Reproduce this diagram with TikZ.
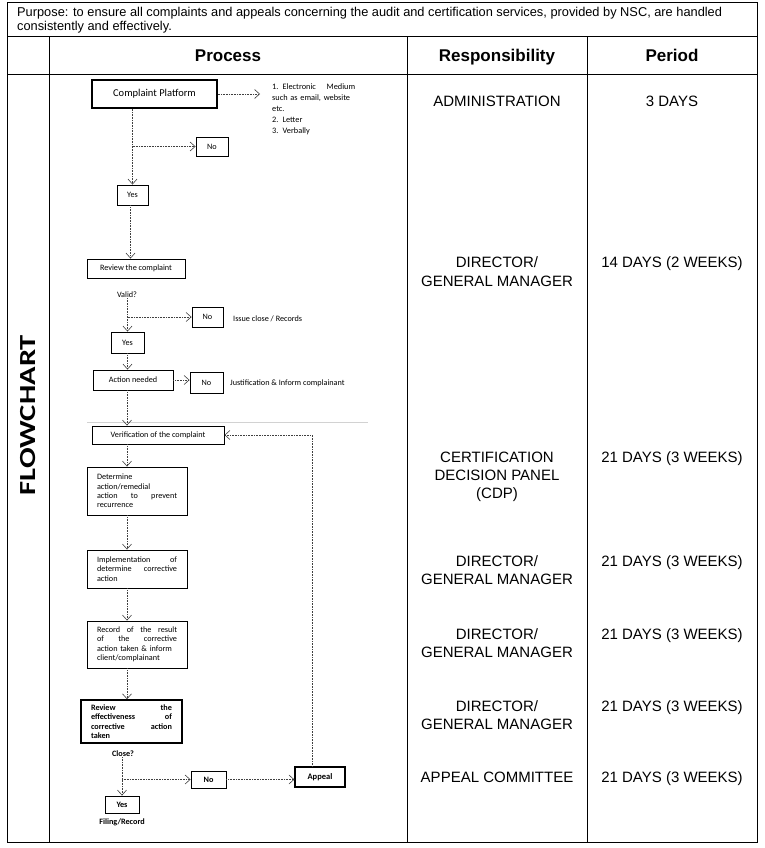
\documentclass[tikz,border=0pt]{standalone}
\usepackage{fontspec}
\setmainfont{Liberation Sans}
\newfontfamily\calfont{Carlito}
\usetikzlibrary{arrows.meta}
\begin{document}
\begin{tikzpicture}[x=1pt,y=-1pt,
  grid/.style={line width=1pt, draw=black},
  colhead/.style={font=\bfseries\fontsize{17}{20}\selectfont, inner sep=0pt, anchor=base},
  resp/.style={anchor=north, align=center, inner sep=0pt, font=\fontsize{15}{18.3}\selectfont},
  fbox/.style={draw=black, line width=0.9pt, inner sep=0pt, align=center, font=\calfont\fontsize{8.2}{9.4}\selectfont},
  tbox/.style={fbox, line width=1.5pt},
  jbox/.style={fbox, align=left, text width=#1, inner xsep=10pt},
  small/.style={inner sep=0pt, font=\calfont\fontsize{8.2}{9.4}\selectfont},
  smallb/.style={inner sep=0pt, font=\calfont\bfseries\fontsize{8.2}{9.4}\selectfont},
  flow/.style={densely dotted, draw=black!75, line width=0.6pt, -{Straight Barb[length=5pt,width=9pt,line width=0.6pt]}}
]
\useasboundingbox (0,0) rectangle (764,848);
% ---------- table ----------
\draw[grid] (7,3) rectangle (757,842);
\draw[grid] (7,37) -- (757,37);
\draw[grid] (7,75) -- (757,75);
\draw[grid] (49,37) -- (49,842);
\draw[grid] (407,37) -- (407,842);
\draw[grid] (587,37) -- (587,842);
\draw[gray!35, line width=0.6pt] (87,422) -- (368,422);

\node[anchor=north west, align=left, inner sep=0pt, font=\fontsize{12.8}{14}\selectfont] (purpose) at (17,7.3)
  {Purpose: to ensure all complaints and appeals concerning the audit and certification services, provided by NSC, are handled\\consistently and effectively.};

\node[colhead] (hproc) at (228,62) {Process};
\node[colhead] (hresp) at (497,62) {Responsibility};
\node[colhead] (hper) at (672,62) {Period};

\node[rotate=90, xscale=1.33, inner sep=0pt, font=\calfont\bfseries\fontsize{23}{23}\selectfont] (fc) at (28,415) {FLOWCHART};

% ---------- responsibility / period ----------
\node[resp] (r1) at (497,95.7) {ADMINISTRATION};
\node[resp] (p1) at (672,95.7) {3 DAYS};
\node[resp] (r2) at (497,256.7) {DIRECTOR/\\GENERAL MANAGER};
\node[resp] (p2) at (672,256.7) {14 DAYS (2 WEEKS)};
\node[resp] (r3) at (497,451.7) {CERTIFICATION\\DECISION PANEL\\(CDP)};
\node[resp] (p3) at (672,451.7) {21 DAYS (3 WEEKS)};
\node[resp] (r4) at (497,555) {DIRECTOR/\\GENERAL MANAGER};
\node[resp] (p4) at (672,555) {21 DAYS (3 WEEKS)};
\node[resp] (r5) at (497,628.3) {DIRECTOR/\\GENERAL MANAGER};
\node[resp] (p5) at (672,628.3) {21 DAYS (3 WEEKS)};
\node[resp] (r6) at (497,700) {DIRECTOR/\\GENERAL MANAGER};
\node[resp] (p6) at (672,700) {21 DAYS (3 WEEKS)};
\node[resp] (r7) at (497,771.7) {APPEAL COMMITTEE};
\node[resp] (p7) at (672,771.7) {21 DAYS (3 WEEKS)};

% ---------- flowchart nodes ----------
\node[tbox, minimum width=125pt, minimum height=28pt, font=\calfont\fontsize{10.5}{12}\selectfont] (cp) at (154.5,94) {Complaint Platform};
\coordinate (cpend) at (260,94);
\node[anchor=north west, align=left, text width=83pt, inner sep=0pt, font=\calfont\fontsize{8.3}{11}\selectfont] (media) at (272,84)
  {1. Electronic \hfill Medium\\such as email, website\\etc.\\2. Letter\\3. Verbally};
\node[fbox, minimum width=32pt, minimum height=19pt] (no1) at (212,146.5) {No};
\node[fbox, minimum width=31pt, minimum height=20pt] (yes1) at (132.5,195) {Yes};
\coordinate (b1) at (132.5,146.5);

\node[fbox, minimum width=98pt, minimum height=19pt] (rev) at (136,268.5) {Review the complaint};
\node[small] (valid) at (127,295) {Valid?};
\node[fbox, minimum width=33pt, minimum height=21pt] (yes2) at (127.5,342.5) {Yes};
\node[fbox, minimum width=31pt, minimum height=20pt] (no2) at (207.5,317) {No};
\coordinate (b2) at (127.5,317);
\node[small, anchor=west] (issue) at (233,319) {Issue close / Records};

\node[fbox, minimum width=80pt, minimum height=20pt] (act) at (133,380) {Action needed};
\node[fbox, minimum width=33pt, minimum height=21pt] (no3) at (206.5,382.5) {No};
\node[small, anchor=west] (just) at (230,383) {Justification \& Inform complainant};

\node[fbox, minimum width=132pt, minimum height=18pt] (ver) at (158,435) {Verification of the complaint};
\node[jbox=80pt, minimum height=48pt] (det) at (137,491)
  {Determine\\action/remedial\\action \hfill to \hfill prevent\\recurrence};
\node[jbox=80pt, minimum height=38pt] (imp) at (137,569)
  {Implementation \hfill of\\determine \hfill corrective\\action};
\node[jbox=80pt, minimum height=47pt] (rec) at (137,644.5)
  {Record \hfill of \hfill the \hfill result\\of \hfill the \hfill corrective\\action taken \& inform\\client/complainant};
\node[jbox=81pt, line width=1.5pt, minimum height=43pt, font=\calfont\bfseries\fontsize{8.2}{9.4}\selectfont] (eff) at (131.5,721.5)
  {Review \hfill the\\effectiveness \hfill of\\corrective \hfill action\\taken};
\node[smallb] (close) at (123,754) {Close?};
\node[fbox, minimum width=34pt, minimum height=17pt, font=\calfont\bfseries\fontsize{8.2}{9.4}\selectfont] (yes3) at (122,804.5) {Yes};
\node[smallb] (filing) at (122,822) {Filing/Record};
\node[fbox, minimum width=35pt, minimum height=17pt, font=\calfont\bfseries\fontsize{8.2}{9.4}\selectfont] (no4) at (208.5,779.5) {No};
\coordinate (b3) at (122,779.5);
\node[tbox, line width=1.2pt, minimum width=50pt, minimum height=20pt, font=\calfont\bfseries\fontsize{8.5}{9.4}\selectfont] (app) at (320,777) {Appeal};
\coordinate (spine) at (127,0);
\coordinate (fb) at (312,0);

% ---------- connectors ----------
\draw[flow] (cp.east) -- (cpend);
\draw[flow] (cp.south -| yes1.north) -- (yes1.north);
\draw[flow] (b1) -- (no1.west);
\draw[flow] ([xshift=-2pt]yes1.south) -- ([xshift=-2pt]yes1.south |- rev.north);
\draw[flow] (valid.south -| yes2.north) -- (yes2.north);
\draw[flow] (b2) -- (no2.west);
\draw[flow] (yes2.south) -- (yes2.south |- act.north);
\draw[flow] (act.east) -- (act.east -| no3.west);
\draw[flow] (spine |- act.south) -- (spine |- ver.north);
\draw[flow] (spine |- ver.south) -- (spine |- det.north);
\draw[flow] (spine |- det.south) -- (spine |- imp.north);
\draw[flow] (spine |- imp.south) -- (spine |- rec.north);
\draw[flow] (spine |- rec.south) -- (spine |- eff.north);
\draw[flow] (close.south -| yes3.north) -- (yes3.north);
\draw[flow] (b3) -- (no4.west);
\draw[flow] (no4.east) -- (no4.east -| app.west);
\draw[flow] (app.north -| fb) -- (fb |- ver.east) -- (ver.east);
\end{tikzpicture}
\end{document}
